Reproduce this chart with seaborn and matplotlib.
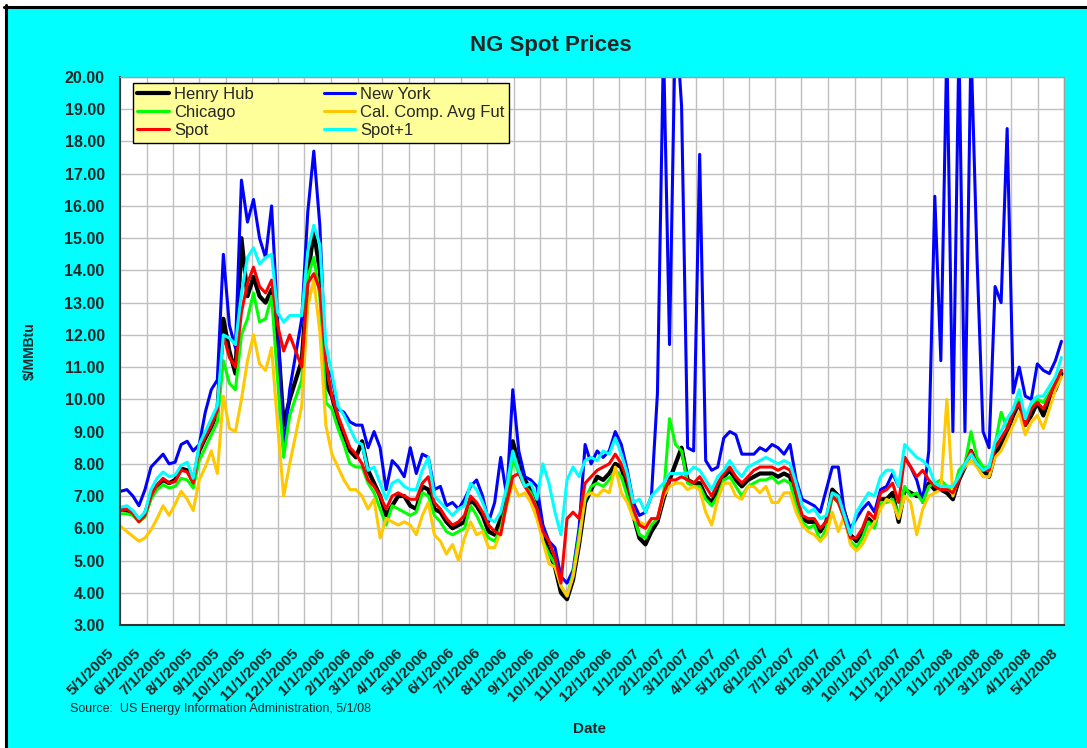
import matplotlib
matplotlib.use('Agg')
import matplotlib.pyplot as plt
import matplotlib.transforms as mtransforms
from matplotlib.patches import Rectangle
from matplotlib.lines import Line2D
import numpy as np
import pandas as pd
import seaborn as sns

# weekly readings (Mondays) from 5/2/2005 to 4/28/2008, $/MMBtu
dates = pd.date_range('2005-05-02', periods=157, freq='7D')
nan = np.nan

henry_hub = [6.60, 6.55, 6.50, 6.25, 6.45, 7.00, 7.30, 7.50, 7.40, 7.50, 7.85, 7.80, 7.45,
             8.40, 8.80, 9.15, 9.60, 12.50, 11.50, 10.80, 15.00, 13.20, 13.80, 13.20, 13.00, 13.40,
             12.00, 9.20, 10.00, nan, 11.20, 13.80, 15.20, 14.00, 10.50, 10.10, 9.40, 8.90, 8.40, 8.20,
             8.70, 7.80, 7.40, 7.00, 6.40, 6.70, 7.00, 7.00, 6.70, 6.60, 7.30, 7.20,
             6.60, 6.50, 6.20, 6.00, 6.10, 6.20, 6.90, 6.70, 6.40, 5.90, 5.80, 6.30, 6.90, 8.70,
             8.00, 7.50, 7.20, 6.80, 5.80, 5.30, 4.80, 4.00, 3.80, 4.40, 5.50, 6.80, 7.20,
             7.60, 7.50, 7.70, 8.00, 7.90, 7.20, 6.40, 5.70, 5.50,
             5.90, 6.20, 6.90, 7.50, 8.00, 8.50, 7.50, 7.40, 7.40, 7.00, 6.80, 7.20,
             7.60, 7.80, 7.50, 7.30, 7.50, 7.60, 7.70, 7.70, 7.70, 7.60, 7.70, 7.60, 6.80,
             6.30, 6.20, 6.20, 5.90, 6.20, 7.20, 7.00, 6.50, 5.80, 5.60, 5.90, 6.30, 6.10,
             6.90, 6.90, 7.10, 6.20, 7.20, 7.10, 7.00, 7.00, 7.40, 7.20, 7.20, 7.10, 6.90, 7.50,
             7.90, 8.40, 8.00, 7.80, 7.60, 8.30, 8.60, 9.00, 9.50, 9.90, 9.20, 9.50, 9.90,
             9.50, 10.00, 10.30, 10.80]

new_york = [7.15, 7.20, 7.00, 6.70, 7.20, 7.90, 8.10, 8.30, 8.00, 8.05, 8.60, 8.70, 8.40,
            8.60, 9.60, 10.30, 10.60, 14.50, 12.30, 11.60, 16.80, 15.50, 16.20, 15.00, 14.40, 16.00,
            12.50, 8.40, 10.30, nan, 12.50, 15.80, 17.70, 15.40, 11.00, 10.70, 9.70, 9.60, 9.30, 9.20,
            9.20, 8.50, 9.00, 8.50, 7.20, 8.10, 7.90, 7.60, 8.50, 7.70, 8.30, 8.20,
            7.20, 7.30, 6.70, 6.80, 6.60, 6.90, 7.30, 7.50, 7.00, 6.20, 6.80, 8.20, 7.00, 10.30,
            8.40, 7.60, 7.50, 7.30, 6.10, 5.60, 5.40, 4.50, 4.30, 4.70, 6.00, 8.60, 8.00,
            8.40, 8.20, 8.40, 9.00, 8.60, 7.80, 6.80, 6.40, 6.50,
            7.00, 10.20, 21.00, 11.70, 22.00, 19.10, 8.50, 8.40, 17.60, 8.10, 7.80, 7.90,
            8.80, 9.00, 8.90, 8.30, 8.30, 8.30, 8.50, 8.40, 8.60, 8.50, 8.30, 8.60, 7.50,
            6.90, 6.80, 6.70, 6.50, 7.20, 7.90, 7.90, 6.50, 6.00, 6.30, 6.60, 6.80, 6.50,
            7.20, 7.30, 7.70, 7.30, 8.20, 7.90, 7.50, 6.80, 8.40, 16.30, 11.20, 21.00, 9.00, 21.00,
            9.00, 21.00, 14.40, 9.00, 8.50, 13.50, 13.00, 18.40, 10.20, 11.00, 10.10, 10.00, 11.10,
            10.90, 10.80, 11.20, 11.80]

chicago = [6.45, 6.45, 6.40, 6.20, 6.35, 6.90, 7.20, 7.35, 7.25, 7.30, 7.55, 7.50, 7.25,
           8.10, 8.50, 8.90, 9.30, 11.20, 10.50, 10.30, 12.00, 12.50, 13.30, 12.40, 12.50, 13.20,
           10.60, 8.20, 9.50, nan, 10.60, 13.80, 14.40, 13.20, 9.90, 9.70, 9.10, 8.60, 8.00, 7.90,
           7.90, 7.40, 7.10, 6.60, 6.10, 6.70, 6.60, 6.50, 6.40, 6.50, 7.10, 7.00,
           6.40, 6.20, 5.90, 5.80, 5.90, 6.00, 6.70, 6.40, 6.00, 5.70, 5.60, 6.00, 6.80, 8.20,
           7.70, 7.30, 7.10, 6.60, 5.60, 5.20, 4.90, 4.20, 3.90, 4.60, 5.80, 6.90, 7.30,
           7.40, 7.30, 7.50, 7.80, 7.60, 7.00, 6.40, 5.80, 5.70,
           6.10, 6.30, 7.00, 9.40, 8.60, 8.40, 7.40, 7.30, 7.30, 6.90, 6.70, 7.00,
           7.50, 7.60, 7.30, 7.00, 7.30, 7.40, 7.50, 7.50, 7.60, 7.40, 7.50, 7.40, 6.70,
           6.20, 6.00, 6.10, 5.60, 6.00, 7.00, 6.80, 6.30, 5.60, 5.40, 5.70, 6.20, 6.00,
           6.80, 6.80, 6.90, 6.40, 7.30, 7.00, 7.10, 6.80, 7.30, 7.40, 7.50, 7.30, 7.10, 7.80,
           8.00, 9.00, 8.20, 7.90, 7.90, 8.60, 9.60, 9.10, 9.70, 10.00, 9.40, 9.70, 10.00,
           9.90, 10.20, 10.50, 10.90]

cal_comp = [6.05, 5.90, 5.75, 5.60, 5.70, 5.95, 6.30, 6.70, 6.40, 6.75, 7.15, 6.90, 6.55,
            7.50, 7.90, 8.40, 7.70, 10.10, 9.10, 9.00, 10.00, 11.20, 12.00, 11.10, 10.90, 11.60,
            9.20, 7.00, 8.00, nan, 9.80, 12.90, 13.70, 12.10, 9.20, 8.30, 7.90, 7.50, 7.20, 7.20,
            7.00, 6.60, 6.90, 5.70, 6.30, 6.20, 6.10, 6.20, 6.10, 5.80, 6.40, 6.80,
            5.80, 5.60, 5.20, 5.50, 5.00, 5.70, 6.20, 5.80, 5.90, 5.40, 5.40, 5.90, 6.70, 7.40,
            7.00, 7.10, 6.80, 6.30, 5.60, 4.90, 4.80, 4.20, 3.90, 4.50, 5.60, 7.00, 7.10,
            7.00, 7.20, 7.10, 7.90, 7.10, 6.80, 6.30, 6.20, 6.10,
            6.30, 6.30, 7.00, 7.30, 7.40, 7.40, 7.20, 7.30, 7.20, 6.50, 6.10, 6.90,
            7.40, 7.40, 7.00, 6.90, 7.30, 7.30, 7.10, 7.30, 6.80, 6.80, 7.10, 7.10, 6.50,
            6.10, 5.90, 5.80, 5.60, 5.80, 6.50, 5.90, 6.40, 5.50, 5.30, 5.50, 5.90, 6.20,
            6.60, 6.90, 6.80, 6.30, 7.00, 6.80, 5.80, 6.60, 7.00, 7.10, 7.20, 10.00, 7.00, 7.60,
            7.90, 8.10, 7.90, 7.60, 7.60, 8.20, 8.40, 8.80, 9.20, 9.60, 8.90, 9.30, 9.50,
            9.10, 9.70, 10.30, 10.70]

spot = [6.55, 6.60, 6.45, 6.20, 6.40, 7.00, 7.35, 7.55, 7.40, 7.45, 7.80, 7.75, 7.40,
        8.45, 8.85, 9.20, 9.65, 12.00, 11.30, 11.00, 12.70, 13.60, 14.10, 13.50, 13.30, 13.70,
        12.30, 11.50, 12.00, nan, 11.00, 13.60, 13.90, 13.40, 11.20, 10.10, 9.50, 9.00, 8.50, 8.30,
        8.00, 7.50, 7.30, 7.00, 6.60, 7.00, 7.10, 7.00, 6.90, 6.90, 7.40, 7.60,
        6.80, 6.60, 6.30, 6.10, 6.20, 6.40, 7.00, 6.80, 6.50, 6.10, 5.90, 5.80, 6.80, 7.60,
        7.70, 7.30, 7.00, 6.60, 5.90, 5.60, 5.10, 4.30, 6.30, 6.50, 6.30, 7.40, 7.60,
        7.80, 7.90, 8.00, 8.30, 8.00, 7.50, 6.60, 6.10, 6.00,
        6.30, 6.30, 7.10, 7.50, 7.50, 7.60, 7.50, 7.40, 7.60, 7.30, 7.00, 7.40,
        7.70, 7.90, 7.60, 7.40, 7.60, 7.80, 7.90, 7.90, 7.90, 7.80, 7.90, 7.80, 7.10,
        6.40, 6.30, 6.30, 6.00, 6.20, 7.00, 6.80, 6.30, 5.70, 5.70, 6.00, 6.50, 6.30,
        7.10, 7.20, 7.40, 6.80, 8.20, 7.90, 7.60, 7.80, 7.50, 7.30, 7.20, 7.20, 7.10, 7.50,
        8.00, 8.40, 8.00, 7.80, 7.80, 8.50, 8.80, 9.10, 9.60, 9.90, 9.20, 9.70, 9.90,
        9.70, 10.10, 10.50, 10.90]

spot_plus1 = [6.65, 6.70, 6.55, 6.30, 6.50, 7.20, 7.55, 7.75, 7.60, 7.65, 7.95, 8.05, 7.55,
              8.60, 9.00, 9.40, 9.80, 12.00, 11.90, 11.70, 13.30, 14.40, 14.70, 14.20, 14.40, 14.50,
              12.70, 12.40, 12.60, nan, 12.60, 14.60, 15.40, 14.80, 11.70, 10.80, 9.80, 9.50, 9.10, 8.70,
              8.60, 7.80, 7.90, 7.40, 6.90, 7.40, 7.50, 7.30, 7.20, 7.20, 7.80, 8.20,
              7.00, 6.80, 6.60, 6.40, 6.60, 6.70, 7.40, 7.20, 6.80, 6.30, 6.20, 6.50, 7.30, 8.40,
              7.80, 7.30, 7.40, 6.90, 8.00, 7.40, 6.50, 5.80, 7.50, 7.90, 7.60, 8.10, 8.20,
              8.10, 8.40, 8.30, 8.80, 8.30, 7.70, 6.80, 6.90, 6.50,
              7.00, 7.20, 7.40, 7.70, 7.70, 7.70, 7.70, 7.90, 7.80, 7.50, 7.20, 7.60,
              7.80, 8.10, 7.80, 7.60, 7.90, 8.00, 8.10, 8.20, 8.10, 8.00, 8.10, 8.00, 7.40,
              6.70, 6.50, 6.60, 6.30, 6.40, 7.10, 7.00, 6.40, 5.80, 6.50, 6.80, 7.10, 7.00,
              7.60, 7.80, 7.80, 7.30, 8.60, 8.40, 8.20, 8.10, 7.90, 7.40, 7.30, 7.30, 7.30, 7.60,
              8.00, 8.30, 8.00, 7.80, 7.90, 8.70, 9.00, 9.40, 9.70, 10.30, 9.40, 9.90, 10.10,
              10.10, 10.40, 10.70, 11.30]

series_names = ['Henry Hub', 'New York', 'Chicago', 'Cal. Comp. Avg Fut', 'Spot', 'Spot+1']
series_colors = ['#000000', '#0000FF', '#00FF00', '#FFC800', '#FF0000', '#00FFFF']
series_values = [henry_hub, new_york, chicago, cal_comp, spot, spot_plus1]

sns.set_style('white')
plt.rcParams['font.family'] = ['Liberation Sans', 'DejaVu Sans']

W, H = 1087, 748
fig = plt.figure(figsize=(W / 100, H / 100), dpi=100, facecolor='white')
# cyan chart area, black frame on the top and left edges only
fig.patches.append(Rectangle((5.5 / W, 0), 1, 1 - 6.5 / H, transform=fig.transFigure,
                             facecolor='#00FFFF', edgecolor='none', zorder=-10))
fig.add_artist(Line2D([4 / W, 1], [1 - 6.5 / H, 1 - 6.5 / H], color='black', linewidth=2.2))
fig.add_artist(Line2D([5.5 / W, 5.5 / W], [0, 1 - 5 / H], color='black', linewidth=2.2))

ax = fig.add_axes([120 / W, 1 - 625 / H, 944 / W, 548 / H])
ax.set_facecolor('white')

for vals, name, col in zip(series_values, series_names, series_colors):
    lw = 3.0 if name == 'Henry Hub' else 2.2
    sns.lineplot(x=dates, y=vals, ax=ax, color=col, linewidth=lw, label=name,
                 estimator=None, sort=False)

ax.set_ylim(3, 20)
ax.set_xlim(pd.Timestamp('2005-05-01'), pd.Timestamp('2008-05-01'))
ax.tick_params(axis='both', direction='out', length=5, width=1, color='#333333')
ax.tick_params(axis='y', pad=6)

yt = np.arange(3, 21, 1)
ax.set_yticks(yt)
ax.set_yticklabels([f'{v:.2f}' for v in yt], fontweight='bold', fontsize=11.5)
months = pd.date_range('2005-05-01', '2008-05-01', freq='MS')
ax.set_xticks(months)
ax.set_xticklabels([f'{d.month}/{d.day}/{d.year}' for d in months], rotation=45,
                   ha='right', rotation_mode='anchor', fontweight='bold', fontsize=11)
# Excel puts the rotated dates a bit left of and below each tick
offset = mtransforms.ScaledTranslation(-13 / 100, -9 / 100, fig.dpi_scale_trans)
for lab in ax.get_xticklabels():
    lab.set_transform(lab.get_transform() + offset)

ax.grid(True, color='#C0C0C0', linewidth=1.0)
ax.set_axisbelow(True)
for side in ['left', 'bottom']:
    ax.spines[side].set_color('#333333')
    ax.spines[side].set_linewidth(1.5)
for side in ['top', 'right']:
    ax.spines[side].set_color('#A0A0A0')
    ax.spines[side].set_linewidth(1.0)
ax.set_xlabel('')
ax.set_ylabel('')

handles, labels = ax.get_legend_handles_labels()
order = [0, 2, 4, 1, 3, 5]
leg = ax.legend([handles[i] for i in order], [labels[i] for i in order], ncol=2,
                loc='upper left', bbox_to_anchor=(13 / 944, 1 - 5.5 / 548), frameon=True,
                facecolor='#FFFF99', edgecolor='black', framealpha=1, fancybox=False,
                fontsize=12, handlelength=1.9, handletextpad=0.3, labelspacing=0.2,
                columnspacing=4.2, borderpad=0.25, borderaxespad=0)
leg.get_frame().set_linewidth(1.0)

fig.text(551 / W, 1 - 45 / H, 'NG Spot Prices', ha='center', va='center',
         fontsize=16, fontweight='bold')
fig.text(30 / W, 1 - 351 / H, r'\$/MMBtu', rotation=90, ha='center', va='center',
         fontsize=10, fontweight='bold')
fig.text(590 / W, 1 - 729 / H, 'Date', ha='center', va='center', fontsize=11, fontweight='bold')
fig.text(70 / W, 1 - 709 / H, 'Source:  US Energy Information Administration, 5/1/08',
         ha='left', va='center', fontsize=9)

fig.savefig('out.png', dpi=100, facecolor=fig.get_facecolor())
